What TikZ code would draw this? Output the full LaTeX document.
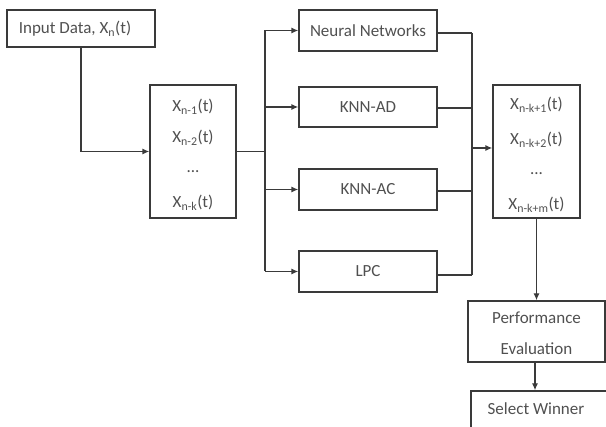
\documentclass[tikz,border=0pt]{standalone}
\usepackage{fontspec}
\setmainfont{Carlito}
\usetikzlibrary{arrows.meta}
\definecolor{linegray}{HTML}{3A3A3A}
\definecolor{txtgray}{HTML}{505050}
\tikzset{
  box/.style={draw=linegray, line width=1.3pt, rectangle, inner sep=0pt},
  lbl/.style={text=txtgray, font=\fontsize{17}{20}\selectfont, inner sep=0pt},
  wire/.style={draw=linegray, line width=1.3pt},
  arr/.style={wire, -{Latex[length=7pt,width=6pt]}}
}
\begin{document}
\begin{tikzpicture}[x=1pt,y=-1pt]
\useasboundingbox (0,0) rectangle (606,427);

% input block
\node[box, minimum width=148pt, minimum height=37pt] (inp) at (81,28.5) {};
\node[lbl] (inptxt) at (75,29) {Input Data, X\textsubscript{n}(t)};

% sliding window of past samples
\node[box, minimum width=86pt, minimum height=133pt] (mid) at (193,151.5) {};
\node[lbl] (m1) at (193,107) {X\textsubscript{n-1}(t)};
\node[lbl] (m2) at (193,138) {X\textsubscript{n-2}(t)};
\node[lbl] (m3) at (193,172) {...};
\node[lbl] (m4) at (193,203) {X\textsubscript{n-k}(t)};

% predictors
\node[box, minimum width=138pt, minimum height=41pt] (nn) at (368,30.5) {};
\node[lbl] (nntxt) at (368,30.5) {Neural Networks};
\node[box, minimum width=138pt, minimum height=40pt] (ad) at (368,107) {};
\node[lbl] (adtxt) at (368,107) {KNN-AD};
\node[box, minimum width=138pt, minimum height=41pt] (ac) at (368,189.5) {};
\node[lbl] (actxt) at (368,189.5) {KNN-AC};
\node[box, minimum width=138pt, minimum height=41pt] (lpc) at (368,271.5) {};
\node[lbl] (lpctxt) at (368,271.5) {LPC};

% predicted samples
\node[box, minimum width=87pt, minimum height=133pt] (out) at (536.5,151.5) {};
\node[lbl] (o1) at (536.5,105) {X\textsubscript{n-k+1}(t)};
\node[lbl] (o2) at (536.5,140) {X\textsubscript{n-k+2}(t)};
\node[lbl] (o3) at (536.5,174) {...};
\node[lbl] (o4) at (536.5,205) {X\textsubscript{n-k+m}(t)};

% evaluation and selection
\node[box, minimum width=137pt, minimum height=61pt] (perf) at (536.5,331.5) {};
\node[lbl] (p1) at (536.5,318) {Performance};
\node[lbl] (p2) at (536.5,349) {Evaluation};
\node[box, minimum width=140pt, minimum height=50pt] (sel) at (541,416) {};
\node[lbl] (seltxt) at (536,409) {Select Winner};

% splitting bus
\coordinate (sp) at (265,151.5);
\coordinate (spt) at (265,30.5);
\coordinate (spb) at (265,271.5);
\draw[arr] (inp.south) |- (mid.west);
\draw[wire] (mid.east) -- (sp);
\draw[wire] (spt) -- (spb);
\draw[arr] (spt) -- (nn.west);
\draw[arr] (sp |- ad.west) -- (ad.west);
\draw[arr] (sp |- ac.west) -- (ac.west);
\draw[arr] (spb) -- (lpc.west);

% joining bus
\coordinate (jt) at (472,33);
\coordinate (jb) at (472,275);
\coordinate (jn) at (472,148);
\draw[wire] (jt) -- (jt -| nn.east);
\draw[wire] (472,108) -- (ad.east |- 0,108);
\draw[wire] (472,191) -- (ac.east |- 0,191);
\draw[wire] (jb) -- (jb -| lpc.east);
\draw[wire] (jt) -- (jb);
\draw[arr] (jn) -- (jn -| out.west);

\draw[arr] (out.south) -- (perf.north);
\draw[arr] (perf.south -| 535,0) -- (sel.north -| 535,0);
\end{tikzpicture}
\end{document}
